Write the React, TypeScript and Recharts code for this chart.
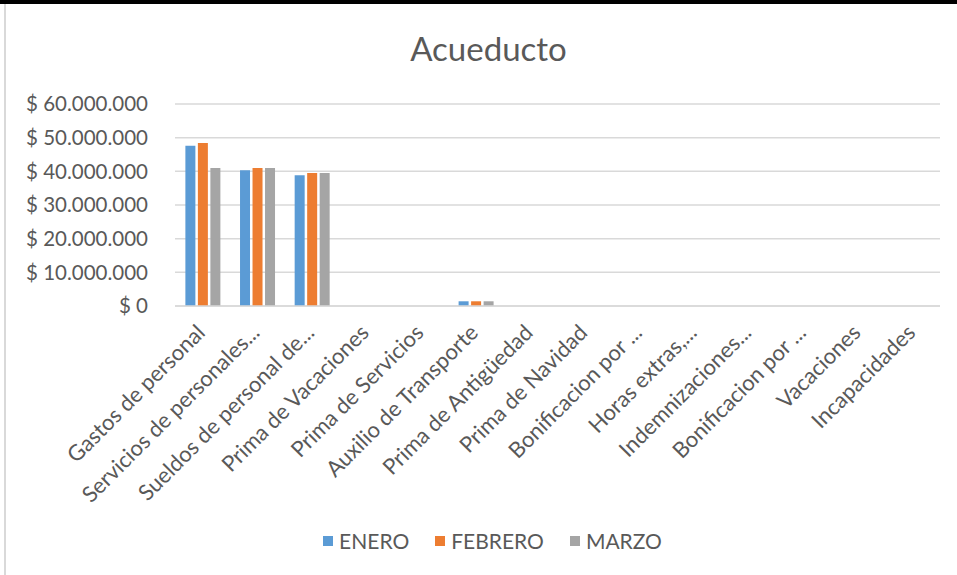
import React from 'react';
import { BarChart, Bar, XAxis, YAxis, CartesianGrid, Legend } from 'recharts';

const categories = [
  'Gastos de personal',
  'Servicios de personales...',
  'Sueldos de personal de...',
  'Prima de Vacaciones',
  'Prima de Servicios',
  'Auxilio de Transporte',
  'Prima de Antigüedad',
  'Prima de Navidad',
  'Bonificacion por ...',
  'Horas extras,...',
  'Indemnizaciones...',
  'Bonificacion por ...',
  'Vacaciones',
  'Incapacidades',
];

const enero = [47600000, 40300000, 38800000, 0, 0, 1400000, 0, 0, 0, 0, 0, 0, 0, 0];
const febrero = [48400000, 41000000, 39500000, 0, 0, 1400000, 0, 0, 0, 0, 0, 0, 0, 0];
const marzo = [41000000, 41000000, 39500000, 0, 0, 1400000, 0, 0, 0, 0, 0, 0, 0, 0];

const yTicks = [0, 10000000, 20000000, 30000000, 40000000, 50000000, 60000000];

const seriesNames = ['ENERO', 'FEBRERO', 'MARZO'];
const colors = ['#5B9BD5', '#ED7D31', '#A5A5A5'];

const data = categories.map((name, i) => ({
  name,
  idx: i,
  ENERO: enero[i],
  FEBRERO: febrero[i],
  MARZO: marzo[i],
}));

const FONT = 'Lato, "Open Sans", sans-serif';
const TEXT = '#595959';

const fmt = (v: number) => '$ ' + (v === 0 ? '0' : v.toLocaleString('de-DE'));

const XTick = (props: any) => {
  const { x, y, payload } = props;
  const label = categories[payload.value] ?? '';
  const tx = x + 4;
  const ty = y + 20;
  return (
    <text
      x={tx}
      y={ty}
      transform={`rotate(-45 ${tx} ${ty})`}
      textAnchor="end"
      fill={TEXT}
      fontSize={22}
      fontFamily={FONT}
    >
      {label}
    </text>
  );
};

const LegendContent = () => (
  <div
    style={{
      display: 'flex',
      justifyContent: 'center',
      gap: 26,
      fontFamily: FONT,
      fontSize: 21,
      color: TEXT,
    }}
  >
    {seriesNames.map((n, i) => (
      <div key={n} style={{ display: 'flex', alignItems: 'center' }}>
        <span style={{ width: 10, height: 10, background: colors[i], display: 'inline-block', marginRight: 6 }} />
        <span>{n}</span>
      </div>
    ))}
  </div>
);

export default function App() {
  return (
    <div style={{ position: 'absolute', left: 0, top: 0, width: 957, height: 575, background: '#fff', overflow: 'hidden' }}>
      <div style={{ position: 'absolute', left: 0, top: 0, width: 957, height: 4, background: '#000' }} />
      <div style={{ position: 'absolute', left: 4, top: 4, width: 2, height: 571, background: '#D9D9D9' }} />
      <div
        style={{
          position: 'absolute',
          left: 10,
          top: 28,
          width: 957,
          textAlign: 'center',
          fontFamily: FONT,
          fontSize: 33,
          color: TEXT,
        }}
      >
        Acueducto
      </div>
      <div style={{ position: 'absolute', left: 0, top: 0 }}>
        <BarChart
          width={957}
          height={575}
          data={data}
          margin={{ top: 104, right: 17, left: 0, bottom: 69 }}
          barCategoryGap="19%"
          barGap={2.5}
        >
          <CartesianGrid vertical={false} stroke="#D9D9D9" strokeWidth={1.5} />
          <XAxis
            dataKey="idx"
            height={200}
            interval={0}
            tick={<XTick />}
            tickLine={false}
            axisLine={{ stroke: '#D9D9D9', strokeWidth: 1.5 }}
          />
          <YAxis
            width={175}
            domain={[0, 60000000]}
            ticks={yTicks}
            tickFormatter={fmt}
            axisLine={false}
            tickLine={false}
            tickMargin={21}
            tick={{ fill: TEXT, fontSize: 20.5, fontFamily: FONT }}
          />
          <Legend
            verticalAlign="middle"
            layout="horizontal"
            content={<LegendContent />}
            wrapperStyle={{ position: 'absolute', top: 528, left: 14, width: 957 }}
          />
          {seriesNames.map((n, i) => (
            <Bar key={n} dataKey={n} fill={colors[i]} isAnimationActive={false} />
          ))}
        </BarChart>
      </div>
    </div>
  );
}
